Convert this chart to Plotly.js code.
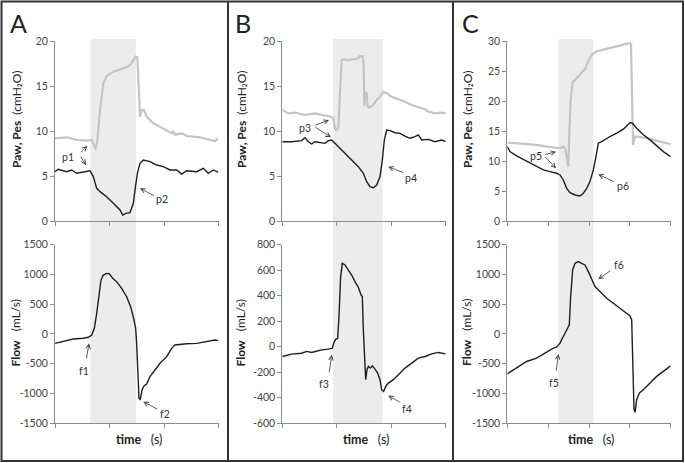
<!DOCTYPE html>
<html><head><meta charset="utf-8">
<script src="https://cdn.plot.ly/plotly-3.0.1.min.js"></script>
<style>html,body{margin:0;padding:0;background:#fff}</style>
</head><body>
<div id="chart" style="width:685px;height:463px"></div>
<script>
// ---------- Panel A ----------
var tA_paw = [0,0.214,0.398,0.581,0.673,0.703,0.746,0.777,0.826,0.887,0.948,1.070,1.254,1.376,1.437,1.480,1.511,1.535,1.560,1.590,1.633,1.682,1.804,1.927,2.049,2.141,2.171,2.202,2.324,2.416,2.661,2.844,2.936,2.997];
var A_paw = [9.19,9.30,9.00,8.93,9.00,8.63,7.96,9.00,12.33,15.30,16.11,16.59,16.96,17.33,17.89,18.26,18.19,15.30,11.59,12.33,12.33,11.59,10.85,10.48,10.11,9.74,10.00,9.59,9.74,9.44,9.30,9.00,8.89,9.19];
var tA_pes = [0,0.061,0.214,0.306,0.398,0.520,0.642,0.703,0.765,0.826,0.948,1.070,1.193,1.242,1.303,1.376,1.437,1.468,1.511,1.560,1.621,1.743,1.865,1.988,2.110,2.232,2.324,2.416,2.599,2.722,2.813,2.905,2.997];
var A_pes = [5.48,5.74,5.48,5.67,5.30,5.48,5.59,4.93,3.63,3.26,2.70,1.96,1.22,0.67,0.85,0.93,1.96,3.44,5.30,6.41,6.78,6.59,6.22,6.04,5.67,5.67,5.22,5.59,5.48,5.85,5.30,5.67,5.41];
var tA_flow = [0,0.153,0.336,0.520,0.612,0.673,0.722,0.765,0.807,0.844,0.887,0.948,0.997,1.058,1.131,1.223,1.315,1.388,1.450,1.480,1.498,1.517,1.541,1.566,1.596,1.633,1.682,1.743,1.835,1.927,2.049,2.141,2.202,2.294,2.416,2.599,2.722,2.844,2.936,2.997];
var A_flow = [-160,-132,-87,-75,-58,-20,93,345,681,906,990,1018,1012,934,878,765,625,457,233,93,-160,-664,-1085,-1102,-945,-877,-844,-720,-608,-496,-384,-244,-188,-177,-166,-160,-138,-121,-104,-115];
var shadeA = [0.648, 1.486];

// ---------- Panel B ----------
var tB_paw = [0,0.110,0.233,0.416,0.600,0.784,0.894,0.937,0.967,0.998,1.029,1.059,1.090,1.120,1.212,1.304,1.396,1.427,1.476,1.494,1.506,1.524,1.549,1.567,1.610,1.671,1.733,1.794,1.855,1.916,2.008,2.131,2.253,2.376,2.498,2.621,2.682,2.804,2.927,3.000];
var B_paw = [12.33,11.96,12.04,11.78,11.96,11.78,11.59,11.41,10.30,10.04,10.48,14.19,17.89,17.96,17.89,17.96,18.07,18.33,18.33,17.15,12.78,14.37,14.19,12.70,12.63,12.89,13.44,13.81,14.37,14.19,13.81,13.52,13.26,12.89,12.63,12.41,12.15,11.96,12.04,11.96];
var tB_pes = [0,0.171,0.355,0.416,0.478,0.539,0.600,0.722,0.784,0.845,0.906,0.967,1.059,1.151,1.273,1.396,1.488,1.549,1.610,1.671,1.733,1.794,1.837,1.873,1.916,1.978,2.069,2.161,2.253,2.345,2.437,2.498,2.559,2.682,2.804,2.927,3.000];
var B_pes = [8.81,8.81,8.93,9.26,8.81,8.56,8.81,8.70,8.63,8.93,9.00,8.63,8.07,7.52,6.78,6.04,5.30,4.37,3.81,3.70,4.00,4.93,6.78,9.00,10.11,10.04,9.81,9.74,9.44,9.19,9.37,9.56,9.00,9.07,8.81,9.00,8.81];
var tB_flow = [0,0.171,0.355,0.447,0.539,0.722,0.845,0.918,0.943,0.980,1.016,1.041,1.071,1.102,1.151,1.212,1.273,1.335,1.396,1.445,1.469,1.488,1.506,1.531,1.555,1.580,1.616,1.653,1.702,1.751,1.794,1.825,1.861,1.898,1.947,2.039,2.131,2.253,2.376,2.498,2.621,2.743,2.865,3.000];
var B_flow = [-78,-59,-52,-38,-46,-26,-20,-13,26,57,65,236,549,654,641,601,562,510,466,406,393,131,-104,-260,-182,-156,-169,-151,-177,-208,-260,-339,-352,-313,-287,-260,-221,-169,-130,-91,-78,-57,-46,-57];
var shadeB = [0.931, 1.843];

// ---------- Panel C ----------
var tC_paw = [0,0.229,0.473,0.718,0.963,1.127,1.290,1.371,1.412,1.453,1.494,1.518,1.551,1.600,1.698,1.820,1.902,1.984,2.065,2.188,2.351,2.514,2.678,2.841,3.004,3.029,3.053,3.078,3.127,3.249,3.412,3.576,3.739,3.902,4.000];
var C_paw = [13.08,12.97,12.85,12.69,12.41,12.30,12.13,12.41,12.13,10.74,9.07,14.64,20.20,23.09,23.82,24.65,25.32,26.60,27.71,28.27,28.55,28.83,29.10,29.38,29.66,29.38,20.20,12.69,14.08,13.97,13.80,13.52,13.24,12.85,12.80];
var tC_pes = [0,0.065,0.229,0.392,0.555,0.718,0.882,1.045,1.208,1.290,1.371,1.453,1.535,1.657,1.780,1.861,1.943,2.024,2.106,2.171,2.229,2.310,2.392,2.514,2.678,2.841,3.004,3.061,3.167,3.331,3.494,3.657,3.820,4.000];
var C_pes = [12.41,11.57,10.85,10.30,9.63,9.07,8.51,8.24,7.96,7.68,6.84,5.45,4.73,4.34,4.17,4.62,5.45,6.57,8.51,10.74,12.97,13.24,13.63,14.08,14.64,15.30,16.42,16.30,15.47,14.36,13.52,12.52,11.57,10.74];
var tC_flow = [0,0.229,0.473,0.718,0.963,1.127,1.208,1.290,1.371,1.453,1.518,1.551,1.600,1.657,1.739,1.820,1.902,1.984,2.065,2.147,2.269,2.433,2.596,2.759,2.922,3.004,3.045,3.069,3.102,3.127,3.167,3.233,3.331,3.494,3.657,3.820,4.000];
var C_flow = [-672,-577,-465,-409,-308,-241,-224,-157,-45,67,151,627,1075,1187,1215,1187,1159,1047,907,795,711,599,515,431,358,302,235,-493,-1276,-1321,-1108,-996,-940,-828,-716,-632,-537];
var shadeC = [1.249, 2.106];

var topTicksAB = [0,5,10,15,20];
var topTicksC = [0,5,10,15,20,25,30];
var flowTicksAC = [-1500,-1000,-500,0,500,1000,1500];
var flowTicksB = [-600,-400,-200,0,200,400,600,800];

var FONT = 'Lato, "Open Sans", sans-serif';
var BLACK = '#1e1e1e', GREY = '#c4c4c4';

function ln(x, y, xa, ya, color, w) {
  return {x: x, y: y, xaxis: xa, yaxis: ya, type: 'scatter', mode: 'lines',
          line: {color: color, width: w}, hoverinfo: 'skip', showlegend: false};
}
var data = [
  ln(tA_paw, A_paw, 'x', 'y', GREY, 2.2), ln(tA_pes, A_pes, 'x', 'y', BLACK, 1.4),
  ln(tA_flow, A_flow, 'x2', 'y2', BLACK, 1.4),
  ln(tB_paw, B_paw, 'x3', 'y3', GREY, 2.2), ln(tB_pes, B_pes, 'x3', 'y3', BLACK, 1.4),
  ln(tB_flow, B_flow, 'x4', 'y4', BLACK, 1.4),
  ln(tC_paw, C_paw, 'x5', 'y5', GREY, 2.2), ln(tC_pes, C_pes, 'x5', 'y5', BLACK, 1.4),
  ln(tC_flow, C_flow, 'x6', 'y6', BLACK, 1.4)
];

var W = 685, H = 463;
function px(v) { return v / W; }
function py(v) { return 1 - v / H; }
var topDom = [py(221), py(41)], botDom = [py(423), py(244.7)];

function xax(dom, n, anchor) {
  return {domain: dom, range: [0, n], anchor: anchor, showline: true, linecolor: '#8c8c8c', linewidth: 1,
          ticks: 'outside', ticklen: 4, tickcolor: '#8c8c8c', dtick: 1, tick0: 0,
          showticklabels: false, showgrid: false, zeroline: false, fixedrange: true};
}
function yax(dom, rng, vals, anchor) {
  return {domain: dom, range: rng, anchor: anchor, showline: true, linecolor: '#8c8c8c', linewidth: 1,
          ticks: 'outside', ticklen: 4, tickcolor: '#8c8c8c', tickmode: 'array', tickvals: vals,
          ticktext: vals.map(String), tickfont: {family: FONT, size: 10.5, color: '#444'},
          showgrid: false, zeroline: false, fixedrange: true};
}
var dA = [px(55), px(218.5)], dB = [px(282.3), px(445.7)], dC = [px(507.3), px(670.7)];

var layout = {
  width: W, height: H, margin: {l: 0, r: 0, t: 0, b: 0},
  paper_bgcolor: '#fff', plot_bgcolor: 'rgba(0,0,0,0)', showlegend: false,
  font: {family: FONT},
  xaxis: xax(dA, 3, 'y'), yaxis: yax(topDom, [0, 20], topTicksAB, 'x'),
  xaxis2: xax(dA, 3, 'y2'), yaxis2: yax(botDom, [-1500, 1500], flowTicksAC, 'x2'),
  xaxis3: xax(dB, 3, 'y3'), yaxis3: yax(topDom, [0, 20], topTicksAB, 'x3'),
  xaxis4: xax(dB, 3, 'y4'), yaxis4: yax(botDom, [-600, 800], flowTicksB, 'x4'),
  xaxis5: xax(dC, 4, 'y5'), yaxis5: yax(topDom, [0, 30], topTicksC, 'x5'),
  xaxis6: xax(dC, 4, 'y6'), yaxis6: yax(botDom, [-1500, 1500], flowTicksAC, 'x6'),
  shapes: [], annotations: []
};

// shaded inspiration windows
[[shadeA, 'x'], [shadeB, 'x3'], [shadeC, 'x5']].forEach(function (s) {
  layout.shapes.push({type: 'rect', xref: s[1], yref: 'paper', x0: s[0][0], x1: s[0][1],
    y0: py(423), y1: py(39), fillcolor: '#ececec', line: {width: 0}, layer: 'below'});
});
// frame
layout.shapes.push({type: 'rect', xref: 'paper', yref: 'paper', x0: px(1.5), x1: px(683), y0: py(461), y1: py(1.5),
  line: {color: '#333', width: 2}, fillcolor: 'rgba(0,0,0,0)'});
[228, 453].forEach(function (xx) {
  layout.shapes.push({type: 'line', xref: 'paper', yref: 'paper', x0: px(xx), x1: px(xx), y0: py(461), y1: py(1.5),
    line: {color: '#333', width: 2}});
});

var A = layout.annotations;
function txt(x, y, t, size, opts) {
  var a = {xref: 'paper', yref: 'paper', x: px(x), y: py(y), text: t, showarrow: false,
           xanchor: 'center', yanchor: 'middle', font: {family: FONT, size: size, color: '#222'}};
  for (var k in opts) a[k] = opts[k];
  A.push(a);
}
// panel letters
txt(18, 23, 'A', 25); txt(243, 23, 'B', 25); txt(470, 23, 'C', 25);
// axis titles
var nb = '\u00a0';
[17, 242, 468].forEach(function (x) {
  txt(x, 120, '<b>Paw, Pes</b>' + nb + nb + '(cmH\u2082O)', 12, {textangle: -90});
});
[14.5, 239.5, 466].forEach(function (x) {
  txt(x, 333, '<b>Flow</b>' + nb + nb + nb + '(mL/s)', 12, {textangle: -90});
});
[139, 366, 591].forEach(function (x) {
  txt(x, 439, '<b>time</b>' + nb + nb + nb + '(s)', 12.5);
});

// labels and arrows (data coordinates)
function lab(xr, yr, x, y, t) {
  A.push({xref: xr, yref: yr, x: x, y: y, text: t, showarrow: false, xanchor: 'center', yanchor: 'middle',
          font: {family: FONT, size: 10.5, color: '#333'}});
}
function arr(xr, yr, x, y, ax, ay) {
  A.push({xref: xr, yref: yr, axref: xr, ayref: yr, x: x, y: y, ax: ax, ay: ay, text: nb,
          font: {family: FONT, size: 2, color: '#333'},
          showarrow: true, arrowhead: 5, arrowsize: 1.1, arrowwidth: 0.8, arrowcolor: '#333', standoff: 0, startstandoff: 0});
}
// A
lab('x', 'y', 0.244, 7.14, 'p1');
arr('x', 'y', 0.593, 8.33, 0.44, 7.44); arr('x', 'y', 0.569, 6.22, 0.44, 7.44);
lab('x', 'y', 1.969, 2.41, 'p2'); arr('x', 'y', 1.56, 3.63, 1.853, 2.70);
lab('x2', 'y2', 0.532, -621, 'f1'); arr('x2', 'y2', 0.624, -159, 0.569, -457);
lab('x2', 'y2', 2.018, -1354, 'f2'); arr('x2', 'y2', 1.62, -1142, 1.908, -1282);
// B
lab('x3', 'y3', 0.417, 10.37, 'p3');
arr('x3', 'y3', 0.857, 11.22, 0.569, 10.56); arr('x3', 'y3', 0.894, 9.30, 0.569, 10.56);
lab('x3', 'y3', 2.357, 4.81, 'p4'); arr('x3', 'y3', 1.946, 6.03, 2.253, 5.30);
lab('x4', 'y4', 0.766, -296, 'f3'); arr('x4', 'y4', 0.907, -65, 0.857, -222);
lab('x4', 'y4', 2.284, -490, 'f4'); arr('x4', 'y4', 1.946, -385, 2.192, -445);
// C
lab('x5', 'y5', 0.703, 10.88, 'p5');
arr('x5', 'y5', 1.192, 11.55, 0.881, 11.0); arr('x5', 'y5', 1.192, 8.78, 0.881, 11.0);
lab('x5', 'y5', 2.825, 5.83, 'p6'); arr('x5', 'y5', 2.228, 7.78, 2.661, 6.38);
lab('x6', 'y6', 1.143, -823, 'f5'); arr('x6', 'y6', 1.249, -340, 1.192, -664);
lab('x6', 'y6', 2.742, 1158, 'f6'); arr('x6', 'y6', 2.228, 918, 2.570, 1086);

Plotly.newPlot('chart', data, layout, {staticPlot: true, displayModeBar: false});
</script>
</body></html>
